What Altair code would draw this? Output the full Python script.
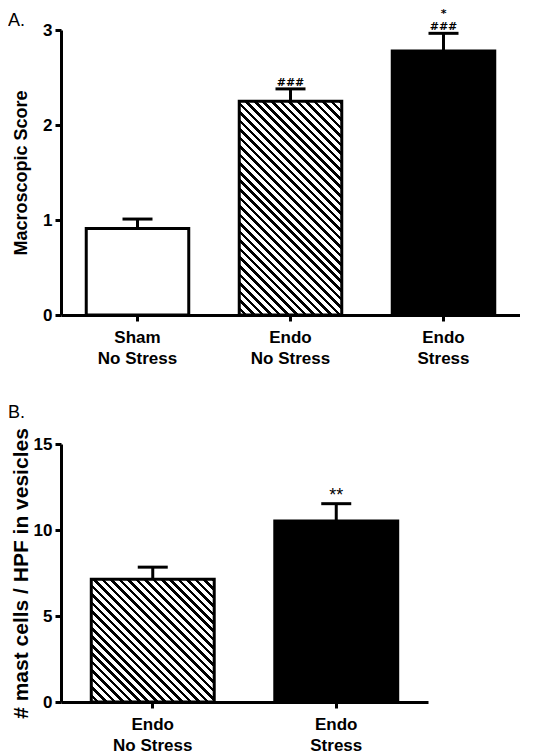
import altair as alt
import pandas as pd

# ---------------- data ----------------
a_groups = ["Sham\nNo Stress", "Endo\nNo Stress", "Endo\nStress"]
a_means = [0.91, 2.25, 2.78]
a_sem = [0.10, 0.13, 0.185]
a_ann = [[""], ["", "###"], ["*", "###"]]
a_ticks = [0, 1, 2, 3]

b_groups = ["Endo\nNo Stress", "Endo\nStress"]
b_means = [7.13, 10.52]
b_sem = [0.71, 1.01]
b_ann = [[""], ["**"]]
b_ticks = [0, 5, 10, 15]

FONT = "Liberation Sans"
PAD_IN = 0.33
PAD_OUT = 0.165


def hatch(w, h, period=8.5, frac=0.42):
    """Diagonal (\\) hatch made of a striped linear gradient in bbox units."""
    alpha = (w + h) / (w * w + h * h)
    n = max(1, round((w + h) / period))
    stops = []
    for i in range(n):
        o0 = round(i / n, 5)
        o1 = round((i + frac) / n, 5)
        if i > 0:
            stops.append({"offset": o0, "color": "white"})
        stops.append({"offset": o0, "color": "black"})
        stops.append({"offset": o1, "color": "black"})
        stops.append({"offset": o1, "color": "white"})
    stops.append({"offset": 1, "color": "white"})
    return {"gradient": "linear", "x1": 1, "y1": 0,
            "x2": round(1 - alpha * w, 5), "y2": round(alpha * h, 5),
            "stops": stops}


def panel(groups, means, sems, ann, fills, ymax, yvals, ytitle,
          width, height, label, label_y, title_pad, title_size, ann_style):
    df = pd.DataFrame({"g": groups, "m": means, "s": sems,
                       "ann": ann, "i": list(range(len(groups)))})
    df["top"] = df["m"] + df["s"]

    xenc = alt.X("g:N", sort=groups,
                 scale=alt.Scale(paddingInner=PAD_IN, paddingOuter=PAD_OUT),
                 axis=alt.Axis(title=None, labelAngle=0,
                               labelExpr="split(datum.label, '\\n')",
                               labelLineHeight=21, labelPadding=8,
                               labelBaseline="top"))
    yscale = alt.Scale(domain=[0, ymax], nice=False)
    yenc = alt.Y("m:Q", scale=yscale,
                 axis=alt.Axis(values=yvals, format="d", title=ytitle,
                               titlePadding=title_pad, titleFontSize=title_size,
                               labelPadding=3))

    base = alt.Chart(df)
    layers = []
    # error bars (upper only)
    layers.append(base.mark_rule(color="black", strokeWidth=3).encode(
        x=xenc, y=yenc, y2="top:Q"))
    layers.append(base.mark_tick(color="black", thickness=3, size=30,
                                 opacity=1).encode(
        x=xenc, y=alt.Y("top:Q", scale=yscale)))
    # bars
    step = width / len(groups)
    bw = step * (1 - PAD_IN)
    for i, f in enumerate(fills):
        if f == "hatch":
            fill = hatch(bw, means[i] * height / ymax)
        else:
            fill = f
        layers.append(base.transform_filter(
            alt.FieldEqualPredicate(field="i", equal=i)).mark_bar(
            fill=fill, stroke="black", strokeWidth=3, opacity=1).encode(
            x=xenc, y=yenc))
    # significance marks (multi-line: star above hashes)
    layers.append(base.mark_text(baseline="bottom", color="black",
                                 **ann_style).encode(
        x=xenc, y=alt.Y("top:Q", scale=yscale), text="ann:N"))
    # panel label
    layers.append(alt.Chart(pd.DataFrame({"t": [label]})).mark_text(
        align="left", baseline="alphabetic", fontSize=18, font=FONT,
        color="black").encode(
        text="t:N", x=alt.value(-53), y=alt.value(label_y)))

    return alt.layer(*layers).properties(width=width, height=height)


pa = panel(a_groups, a_means, a_sem, a_ann,
           ["white", "hatch", "black"], 3, a_ticks, "Macroscopic Score",
           459, 285, "A.", -4.5, 12, 18,
           dict(font="DejaVu Sans", fontWeight="bold", fontSize=11,
                lineHeight=13, dy=-14))
pb = panel(b_groups, b_means, b_sem, b_ann,
           ["hatch", "black"], 15, b_ticks, "# mast cells  / HPF in vesicles",
           367, 258, "B.", -26, 2, 21,
           dict(font=FONT, fontSize=18, dy=1))

chart = alt.vconcat(pa, pb, spacing=38).properties(padding=0).configure_view(
    stroke=None).configure_axis(
    domainColor="black", domainWidth=3, tickColor="black", tickWidth=3,
    tickSize=6, grid=False, labelFont=FONT, labelFontSize=17,
    labelFontWeight="bold", labelColor="black", titleFont=FONT,
    titleFontSize=17, titleFontWeight="bold", titleColor="black")

chart.save("out.html", embed_options={"renderer": "svg", "actions": False})
